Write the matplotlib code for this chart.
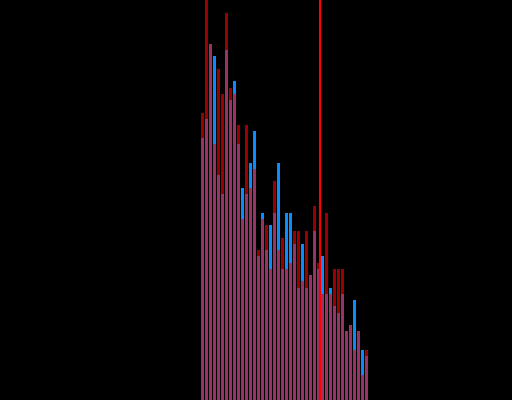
import matplotlib
matplotlib.use("Agg")
import matplotlib.pyplot as plt
import numpy as np

red_counts = [46, 66, 57, 41, 53, 49, 62, 50, 49, 44, 29, 44, 34, 37, 24, 29, 28, 21, 35, 24,
              26, 21, 22, 27, 27, 19, 27, 20, 31, 22, 17, 30, 17, 21, 21, 21, 11, 12, 8, 11, 4, 8]
blue_counts = [42, 45, 57, 55, 36, 33, 56, 48, 51, 41, 34, 33, 38, 43, 23, 30, 24, 28, 30, 38,
               21, 30, 30, 25, 18, 25, 18, 20, 27, 21, 23, 17, 18, 15, 14, 17, 11, 12, 16, 11, 8, 7]
marker_x = 29.4

red_c = np.array(red_counts)
blue_c = np.array(blue_counts)
overlap = np.minimum(red_c, blue_c)
x = np.arange(len(red_c))

fig = plt.figure(figsize=(5.12, 4.0), dpi=100, facecolor="black")
ax = fig.add_axes([0, 0, 1, 1])
ax.set_facecolor("black")
w = 0.75
ax.bar(x, red_c, width=w, color="#990000", linewidth=0)
ax.bar(x, blue_c, width=w, color="#0a8cff", linewidth=0)
ax.bar(x, overlap, width=w, color="#993366", linewidth=0)
ax.axvline(marker_x, color="#ff0000", linewidth=1.5)
ax.set_xlim(-50.625, 77.375)
ax.set_ylim(0, 64)
ax.axis("off")
fig.savefig("out.png", dpi=100, facecolor="black")
